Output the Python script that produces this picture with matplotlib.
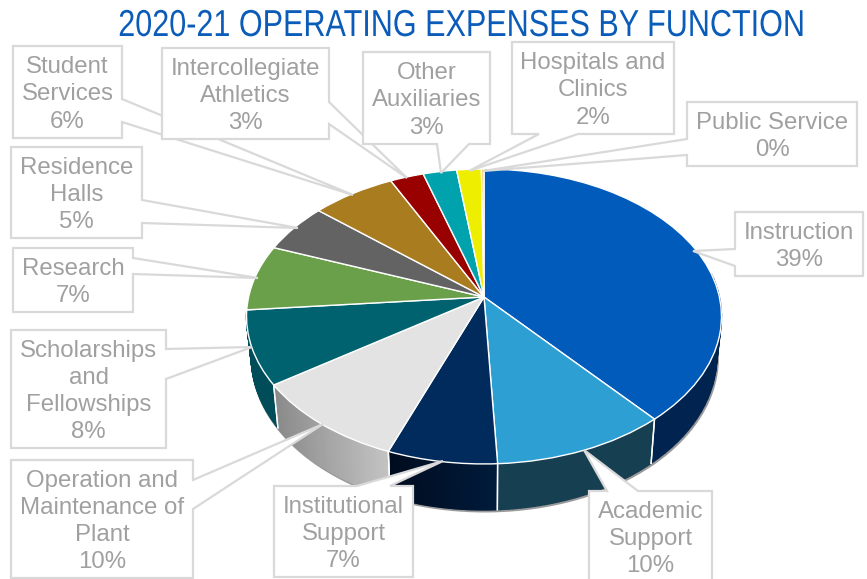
import matplotlib
matplotlib.use('Agg')
import matplotlib.pyplot as plt
import numpy as np
from matplotlib.colors import to_rgb
from matplotlib.patches import Polygon
from matplotlib.patheffects import AbstractPathEffect
from matplotlib.transforms import Affine2D, Transform

# Share of expenses per function
functions = ['Instruction', 'Academic\nSupport', 'Institutional\nSupport',
             'Operation and\nMaintenance of\nPlant', 'Scholarships\nand\nFellowships',
             'Research', 'Residence\nHalls', 'Student\nServices',
             'Intercollegiate\nAthletics', 'Other\nAuxiliaries',
             'Hospitals and\nClinics', 'Public Service']
shares = [38.7, 10.5, 6.6, 9.7, 8.1, 7.2, 5.4, 6.5, 2.6, 2.6, 1.9, 0.2]
share_labels = ['39%', '10%', '7%', '10%', '8%', '7%', '5%', '6%', '3%', '3%', '2%', '0%']

top_colors = ['#005bbb', '#2e9fd3', '#002b5c', '#e3e3e3', '#00626e', '#6ba04a',
              '#636363', '#a97c1f', '#990000', '#00a3ad', '#eeee00', '#f2d16b']
# Side wall shades: (left end, right end) as seen on screen
wall_colors = {0: ('#00234f', '#00234f'), 1: ('#163f52', '#163f52'),
               2: ('#000c1f', '#001b3b'), 3: ('#8a8a8a', '#c4c4c4'),
               4: ('#004c58', '#004c58')}

# Callouts: box (left, top, right, bottom), side the leader leaves from,
# the two leader base positions on that side, and the leader tip
callouts = [
    ((735, 212, 863, 276), 'left', (249, 266), (693, 251)),
    ((589, 491, 712, 582), 'top', (607, 638), (584, 450)),
    ((274, 486, 413, 577), 'top', (357, 390), (443, 461)),
    ((11, 460, 193, 578), 'right', (480, 509), (323, 424)),
    ((11, 330, 166, 448), 'right', (349, 379), (252, 347)),
    ((13, 248, 133, 312), 'right', (258, 274), (258, 278)),
    ((11, 147, 142, 238), 'right', (200, 223), (298, 228)),
    ((13, 46, 122, 138), 'right', (99, 122), (353, 195)),
    ((162, 48, 329, 139), 'right', (102, 124), (407, 178)),
    ((363, 52, 490, 144), 'bottom', (437, 469), (441, 173)),
    ((512, 42, 674, 134), 'bottom', (539, 578), (469, 171)),
    ((687, 102, 857, 166), 'left', (139, 155), (483, 171)),
]

CX, CY = 484.0, 297.0
PERSP = 0.132
RX, RY = 235.4, 105.7


# Tilted pie: projects the unit circle of ax.pie to picture pixels
class TiltTransform(Transform):
    input_dims = 2
    output_dims = 2

    def transform_non_affine(self, values):
        values = np.asarray(values, dtype=float)
        w = 1 + PERSP * values[:, 1]
        return np.column_stack([CX + RX * values[:, 0] / w,
                                (CY - RY * values[:, 1]) / w])


# The title font is a narrow one, so squeeze the glyphs sideways when drawing
class Squeeze(AbstractPathEffect):
    def __init__(self, origin, scale, shift):
        super().__init__()
        self.step = Affine2D().translate(-origin, 0).scale(scale, 1).translate(origin + shift, 0)

    def draw_path(self, renderer, gc, tpath, affine, rgbFace=None):
        renderer.draw_path(gc, tpath, affine + self.step, rgbFace)


tilt = TiltTransform()


# Lower rim of the pie, from the points of the upper rim
def drop_rim(points):
    return np.column_stack([CX + (points[:, 0] - CX) * 0.98,
                            CY + (points[:, 1] - CY) * 1.04 + 39.3])


def blend(pair, frac):
    a, b = np.array(to_rgb(pair[0])), np.array(to_rgb(pair[1]))
    return tuple(a + (b - a) * frac)


def callout_outline(box, side, base, tip):
    l, t, r, b = box
    if side == 'left':
        return [(l, t), (r, t), (r, b), (l, b), (l, base[1]), tip, (l, base[0])]
    if side == 'right':
        return [(l, t), (r, t), (r, base[0]), tip, (r, base[1]), (r, b), (l, b)]
    if side == 'top':
        return [(l, t), (base[0], t), tip, (base[1], t), (r, t), (r, b), (l, b)]
    return [(l, t), (r, t), (r, b), (base[1], b), tip, (base[0], b), (l, b)]


plt.rcParams['font.family'] = ['Liberation Sans', 'DejaVu Sans']

fig = plt.figure(figsize=(8.67, 5.79), dpi=100)
ax = fig.add_axes([0, 0, 1, 1])

wedges, _ = ax.pie(shares, colors=top_colors, startangle=90, counterclock=False,
                   wedgeprops={'edgecolor': 'white', 'linewidth': 1.0})
ax.set_aspect('auto')
ax.set_xlim(0, 867)
ax.set_ylim(579, 0)
ax.axis('off')

for wedge in wedges:
    wedge.set_transform(tilt + ax.transData)
    wedge.set_zorder(3)

# Soft shadow under the lower rim
t = np.radians(np.linspace(180, 360, 300))
rim = tilt.transform_non_affine(np.column_stack([np.cos(t), np.sin(t)]))
low = drop_rim(rim)
ax.plot(low[:, 0] + 0.8, low[:, 1] + 1.2, color='#9a9a9a', lw=2.0, zorder=1)

# Side walls of the front slices, in thin shaded strips
for i, wedge in enumerate(wedges):
    if i not in wall_colors:
        continue
    t1, t2 = wedge.theta1 % 360, wedge.theta2 % 360
    if t2 <= t1:
        t2 += 360
    angles = np.radians(np.linspace(t1, t2, 60))
    pts = np.column_stack([np.cos(angles), np.sin(angles)])
    pts = pts[pts[:, 1] < 0.2]
    upper = tilt.transform_non_affine(pts)
    lower = drop_rim(upper)
    x0, x1 = upper[:, 0].min(), upper[:, 0].max()
    for k in range(len(upper) - 1):
        frac = (upper[k, 0] - x0) / (x1 - x0)
        quad = [upper[k], upper[k + 1], lower[k + 1], lower[k]]
        ax.add_patch(Polygon(quad, closed=True, facecolor=blend(wall_colors[i], frac),
                             edgecolor=blend(wall_colors[i], frac), lw=1.0, zorder=2))
    for end in (0, -1):
        if pts[end, 1] < -0.1:
            ax.plot([upper[end, 0], lower[end, 0]], [upper[end, 1], lower[end, 1]],
                    color='white', lw=1.0, zorder=2.5)

# Callout labels
for name, pct, (box, side, base, tip) in zip(functions, share_labels, callouts):
    ax.add_patch(Polygon(callout_outline(box, side, base, tip), closed=True,
                         facecolor='white', edgecolor='#d9d9d9', lw=1.6,
                         joinstyle='miter', zorder=4))
    l, t, r, b = box
    ax.text((l + r) / 2, (t + b) / 2 + 2.5, name + '\n' + pct, ha='center', va='center',
            fontsize=17.3, color='#a0a0a0', linespacing=1.3, zorder=5)

ax.text(433.5, 26, '2020-21 OPERATING EXPENSES BY FUNCTION', ha='center', va='center',
        fontsize=27, color='#0a5cb8', zorder=5,
        path_effects=[Squeeze(433.5, 0.815, 28)])

fig.savefig('out.png', dpi=100)
